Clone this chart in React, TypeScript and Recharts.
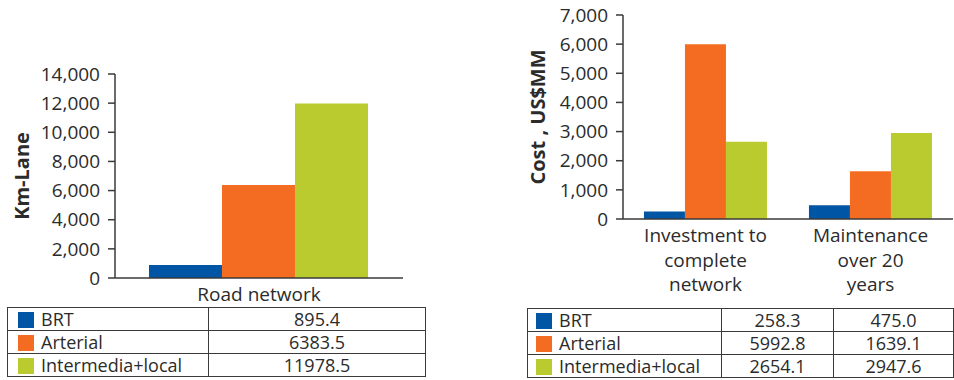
import React from "react";
import { BarChart, Bar, XAxis, YAxis, Label } from "recharts";

const series = ["BRT", "Arterial", "Intermedia+local"];
const seriesColors = ["#0055a4", "#f36c21", "#b9cb2f"];

// road network, km-lane
const roadCategories = ["Road network"];
const roadBRT = [895.4];
const roadArterial = [6383.5];
const roadLocal = [11978.5];
const roadTicks = [0, 2000, 4000, 6000, 8000, 10000, 12000, 14000];

// cost, US$MM
const costCategories = ["Investment to\ncomplete\nnetwork", "Maintenance\nover 20\nyears"];
const costBRT = [258.3, 475.0];
const costArterial = [5992.8, 1639.1];
const costLocal = [2654.1, 2947.6];
const costTicks = [0, 1000, 2000, 3000, 4000, 5000, 6000, 7000];

const font = "'Open Sans', sans-serif";
const textColor = "#2b2b2b";
const axisColor = "#3a3a3a";
const fontSize = 19;

const buildRows = (cats: string[], a: number[], b: number[], c: number[]) =>
  cats.map((name, i) => ({ name, brt: a[i], arterial: b[i], local: c[i] }));

const CategoryTick = (props: any) => {
  const { x, y, payload } = props;
  const lines = String(payload.value).split("\n");
  return (
    <text x={x} y={y} textAnchor="middle" fill={textColor} fontSize={fontSize} fontFamily={font}>
      {lines.map((l, i) => (
        <tspan key={i} x={x} dy={i === 0 ? 21 : 24.5}>
          {l}
        </tspan>
      ))}
    </text>
  );
};

const axisTitle = (text: string, cx: number) => (props: any) => {
  const vb = props.viewBox || {};
  const cy = (vb.y || 0) + (vb.height || 0) / 2;
  return (
    <text
      x={cx}
      y={cy}
      transform={`rotate(-90 ${cx} ${cy})`}
      textAnchor="middle"
      dominantBaseline="central"
      fill={textColor}
      fontSize={20}
      fontWeight={700}
      fontFamily={font}
    >
      {text}
    </text>
  );
};

const fmt = (v: number) => v.toLocaleString("en-US");

const Bars = () => (
  <>
    <Bar dataKey="brt" fill={seriesColors[0]} isAnimationActive={false} />
    <Bar dataKey="arterial" fill={seriesColors[1]} isAnimationActive={false} />
    <Bar dataKey="local" fill={seriesColors[2]} isAnimationActive={false} />
  </>
);

const cell: React.CSSProperties = {
  border: `1.5px solid ${axisColor}`,
  padding: 0,
  height: 22,
  fontSize: 18,
  lineHeight: "22px",
  color: textColor,
  fontFamily: font,
  whiteSpace: "nowrap",
  overflow: "hidden",
};

const DataTable = ({
  left,
  top,
  colWidths,
  values,
  swatchLeft,
}: {
  left: number;
  top: number;
  colWidths: number[];
  values: number[][];
  swatchLeft: number;
}) => (
  <table
    style={{
      position: "absolute",
      left,
      top,
      width: colWidths.reduce((s, w) => s + w, 0),
      borderCollapse: "collapse",
      tableLayout: "fixed",
    }}
  >
    <colgroup>
      {colWidths.map((w, i) => (
        <col key={i} style={{ width: w }} />
      ))}
    </colgroup>
    <tbody>
      {series.map((s, i) => (
        <tr key={s}>
          <td style={cell}>
            <span
              style={{
                display: "inline-block",
                width: 16,
                height: 16,
                background: seriesColors[i],
                marginLeft: swatchLeft,
                marginRight: 7,
                verticalAlign: "-2px",
              }}
            />
            {s}
          </td>
          {values[i].map((v, j) => (
            <td key={j} style={{ ...cell, textAlign: "center" }}>
              {v.toFixed(1)}
            </td>
          ))}
        </tr>
      ))}
    </tbody>
  </table>
);

export default function App() {
  const roadRows = buildRows(roadCategories, roadBRT, roadArterial, roadLocal);
  const costRows = buildRows(costCategories, costBRT, costArterial, costLocal);

  const roadTable = [roadBRT, roadArterial, roadLocal];
  const costTable = [costBRT, costArterial, costLocal];

  const yTick = { fill: textColor, fontSize, fontFamily: font };

  return (
    <div style={{ position: "absolute", left: 0, top: 0, width: 954, height: 380, background: "#fff" }}>
      <div style={{ position: "absolute", left: 0, top: 0 }}>
        <BarChart
          width={430}
          height={306}
          data={roadRows}
          margin={{ top: 74, right: 27, left: 0, bottom: 0 }}
          barGap={0}
          barCategoryGap="11.8%"
        >
          <XAxis
            dataKey="name"
            height={28}
            tick={<CategoryTick />}
            tickLine={false}
            tickSize={0}
            axisLine={{ stroke: axisColor, strokeWidth: 1.5 }}
          />
          <YAxis
            width={115}
            domain={[0, 14000]}
            ticks={roadTicks}
            interval={0}
            tickFormatter={fmt}
            tick={yTick}
            tickSize={7}
            tickMargin={8}
            tickLine={{ stroke: axisColor, strokeWidth: 1.5 }}
            axisLine={{ stroke: axisColor, strokeWidth: 1.5 }}
          >
            <Label content={axisTitle("Km-Lane", 21)} />
          </YAxis>
          {Bars()}
        </BarChart>
      </div>

      <div style={{ position: "absolute", left: 520, top: 0 }}>
        <BarChart
          width={434}
          height={300}
          data={costRows}
          margin={{ top: 15, right: 1, left: 0, bottom: 0 }}
          barGap={0}
          barCategoryGap="12.7%"
        >
          <XAxis
            dataKey="name"
            height={81}
            tick={<CategoryTick />}
            tickLine={false}
            tickSize={0}
            interval={0}
            axisLine={{ stroke: axisColor, strokeWidth: 1.5 }}
          />
          <YAxis
            width={103}
            domain={[0, 7000]}
            ticks={costTicks}
            interval={0}
            tickFormatter={fmt}
            tick={yTick}
            tickSize={7}
            tickMargin={8}
            tickLine={{ stroke: axisColor, strokeWidth: 1.5 }}
            axisLine={{ stroke: axisColor, strokeWidth: 1.5 }}
          >
            <Label content={axisTitle("Cost , US$MM", 17)} />
          </YAxis>
          {Bars()}
        </BarChart>
      </div>

      <DataTable left={7} top={307} colWidths={[201, 217]} values={roadTable} swatchLeft={10} />
      <DataTable left={527} top={308} colWidths={[194, 112, 120]} values={costTable} swatchLeft={8} />
    </div>
  );
}
